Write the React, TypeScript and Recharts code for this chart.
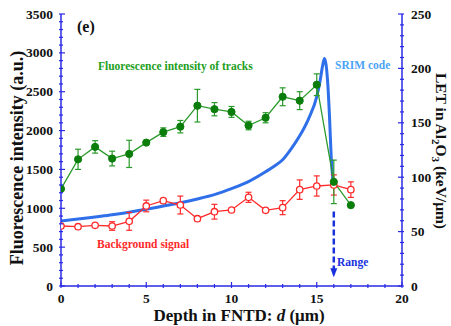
import React from 'react';
import {
  ComposedChart,
  Line,
  XAxis,
  YAxis,
  ErrorBar,
  ReferenceLine,
  ReferenceDot,
} from 'recharts';

const FONT = '"Liberation Serif", "Times New Roman", serif';
const AXIS = '#2a2ae6';

// measured points (depth in um)
const depth = [0, 1, 2, 3, 4, 5, 6, 7, 8, 9, 10, 11, 12, 13, 14, 15, 16, 17];
const tracks = [1250, 1630, 1790, 1640, 1700, 1845, 1980, 2050, 2320, 2275, 2240, 2065, 2165, 2435, 2385, 2590, 1340, 1040];
const tracksErr = [null, 130, 80, 95, 175, 25, 55, 80, 210, 85, 70, 55, 65, 115, 115, 140, 280, null];
const background = [772, 763, 781, 772, 832, 1030, 1098, 1042, 866, 956, 978, 1141, 974, 1008, 1240, 1287, 1300, 1240];
const backgroundErr = [null, null, null, 55, 115, 75, 20, 115, null, 95, null, 65, null, 90, 125, 130, 130, 100];

// SRIM LET curve (keV/um)
const srimDepth = [0, 1, 2, 3, 4, 5, 6, 7, 8, 9, 10, 11, 12, 12.5, 13, 13.5, 14, 14.5, 15, 15.2, 15.35, 15.45, 15.55, 15.65, 15.75, 15.85, 15.95];
const srimLet = [59.7, 61.5, 63.5, 65.5, 67.8, 70.5, 73.5, 76.5, 80, 84, 89.5, 96, 105, 110, 116, 126, 138, 153, 174, 189, 203, 209, 203, 185, 155, 118, 97];

// axis labels
const xLabels = [0, 5, 10, 15, 20];
const leftLabels = [0, 500, 1000, 1500, 2000, 2500, 3000, 3500];
const rightLabels = [0, 50, 100, 150, 200, 250];

const xTicks = Array.from({ length: 21 }, (_, i) => i);
const leftTicks = Array.from({ length: 36 }, (_, i) => i * 100);
const rightTicks = Array.from({ length: 26 }, (_, i) => i * 10);

const tracksData = depth.map((d, i) => ({ d, v: tracks[i], e: tracksErr[i] }));
const backgroundData = depth.map((d, i) => ({ d, v: background[i], e: backgroundErr[i] }));
const srimData = srimDepth.map((d, i) => ({ d, v: srimLet[i] }));

const labelStyle = { fontFamily: FONT, fontWeight: 'bold' as const, fontSize: 13.5, fill: '#111' };

const BottomTick = ({ x, y, payload }: any) => {
  const major = xLabels.includes(payload.value);
  return (
    <g>
      <line x1={x} x2={x} y1={y} y2={y - (major ? 6 : 4)} stroke={AXIS} strokeWidth={1.2} />
      {major && (
        <text x={x} y={y + 15} textAnchor="middle" {...labelStyle}>
          {payload.value}
        </text>
      )}
    </g>
  );
};

const TopTick = ({ x, y, payload }: any) => {
  const major = xLabels.includes(payload.value);
  return <line x1={x} x2={x} y1={y} y2={y + (major ? 6 : 4)} stroke={AXIS} strokeWidth={1.2} />;
};

const LeftTick = ({ x, y, payload }: any) => {
  const major = leftLabels.includes(payload.value);
  return (
    <g>
      <line x1={x} x2={x + (major ? 6 : 4)} y1={y} y2={y} stroke={AXIS} strokeWidth={1.2} />
      {major && (
        <text x={x - 6} y={y + 4.5} textAnchor="end" {...labelStyle}>
          {payload.value}
        </text>
      )}
    </g>
  );
};

const RightTick = ({ x, y, payload }: any) => {
  const major = rightLabels.includes(payload.value);
  return (
    <g>
      <line x1={x} x2={x - (major ? 6 : 4)} y1={y} y2={y} stroke={AXIS} strokeWidth={1.2} />
      {major && (
        <text x={x + 7} y={y + 4.5} textAnchor="start" {...labelStyle}>
          {payload.value}
        </text>
      )}
    </g>
  );
};

const ArrowHead = ({ cx, cy }: any) => (
  <polygon points={`${cx - 3.5},${cy - 9} ${cx + 3.5},${cy - 9} ${cx},${cy}`} fill="#1a30dd" />
);

export default function App() {
  return (
    <div style={{ position: 'absolute', left: 0, top: 0, width: 451, height: 326 }}>
      <ComposedChart width={451} height={326} margin={{ top: 14, right: 0, bottom: 0, left: 0 }}>
        <XAxis
          dataKey="d"
          type="number"
          domain={[0, 20]}
          ticks={xTicks}
          interval={0}
          height={40}
          tickSize={0}
          tickLine={false}
          axisLine={{ stroke: AXIS, strokeWidth: 1.5 }}
          tick={<BottomTick />}
          allowDataOverflow
        />
        <XAxis
          xAxisId="top"
          orientation="top"
          dataKey="d"
          type="number"
          domain={[0, 20]}
          ticks={xTicks}
          interval={0}
          height={0}
          tickSize={0}
          tickLine={false}
          axisLine={{ stroke: AXIS, strokeWidth: 1.5 }}
          tick={<TopTick />}
        />
        <YAxis
          yAxisId="left"
          type="number"
          domain={[0, 3500]}
          ticks={leftTicks}
          interval={0}
          width={61}
          tickSize={0}
          tickLine={false}
          axisLine={{ stroke: AXIS, strokeWidth: 1.5 }}
          tick={<LeftTick />}
        />
        <YAxis
          yAxisId="right"
          orientation="right"
          type="number"
          domain={[0, 250]}
          ticks={rightTicks}
          interval={0}
          width={49}
          tickSize={0}
          tickLine={false}
          axisLine={{ stroke: AXIS, strokeWidth: 1.5 }}
          tick={<RightTick />}
        />

        <Line
          yAxisId="right"
          data={srimData}
          dataKey="v"
          type="monotone"
          stroke="#2f6fea"
          strokeWidth={3}
          dot={false}
          isAnimationActive={false}
        />
        <Line
          yAxisId="left"
          data={backgroundData}
          dataKey="v"
          type="linear"
          stroke="#ff2a2a"
          strokeWidth={1.3}
          dot={{ r: 3.2, fill: '#fff', stroke: '#ff2a2a', strokeWidth: 1.3 }}
          isAnimationActive={false}
        >
          <ErrorBar dataKey="e" direction="y" width={3} stroke="#ff2a2a" strokeWidth={1.2} />
        </Line>
        <Line
          yAxisId="left"
          data={tracksData}
          dataKey="v"
          type="linear"
          stroke="#2a9a2a"
          strokeWidth={1.3}
          dot={{ r: 3.6, fill: '#0b7d0b', stroke: '#0b7d0b', strokeWidth: 1 }}
          isAnimationActive={false}
        >
          <ErrorBar dataKey="e" direction="y" width={3} stroke="#2a9a2a" strokeWidth={1.2} />
        </Line>

        <ReferenceLine
          yAxisId="left"
          segment={[{ x: 16, y: 958 }, { x: 16, y: 140 }]}
          stroke="#1a30dd"
          strokeWidth={2.5}
          strokeDasharray="6 3"
        />
        <ReferenceDot yAxisId="left" x={16} y={112} shape={<ArrowHead />} />
      </ComposedChart>

      <svg
        width={451}
        height={326}
        style={{ position: 'absolute', left: 0, top: 0, pointerEvents: 'none' }}
        fontFamily={FONT}
        fontWeight="bold"
      >
        <text x={77} y={31.5} fontSize={16} fill="#111">(e)</text>
        <text x={98} y={69.5} fontSize={11.5} fill="#22a022">Fluorescence intensity of tracks</text>
        <text x={335} y={69} fontSize={11.5} fill="#4da3f5">SRIM code</text>
        <text x={97} y={247.5} fontSize={11.5} fill="#ff2a2a">Background signal</text>
        <text x={337} y={266} fontSize={11.5} fill="#1a30dd">Range</text>

        <text x={239} y={321} fontSize={17} textAnchor="middle" fill="#111">
          Depth in FNTD: <tspan fontStyle="italic">d</tspan> (μm)
        </text>
        <text transform="translate(23,158) rotate(-90)" fontSize={18} textAnchor="middle" fill="#111">
          Fluorescence intensity (a.u.)
        </text>
        <text transform="translate(436,151) rotate(90)" fontSize={15.5} textAnchor="middle" fill="#111">
          LET in Al<tspan dy={4} fontSize={11}>2</tspan>
          <tspan dy={-4}>O</tspan>
          <tspan dy={4} fontSize={11}>3</tspan>
          <tspan dy={-4}> (keV/μm)</tspan>
        </text>
      </svg>
    </div>
  );
}
